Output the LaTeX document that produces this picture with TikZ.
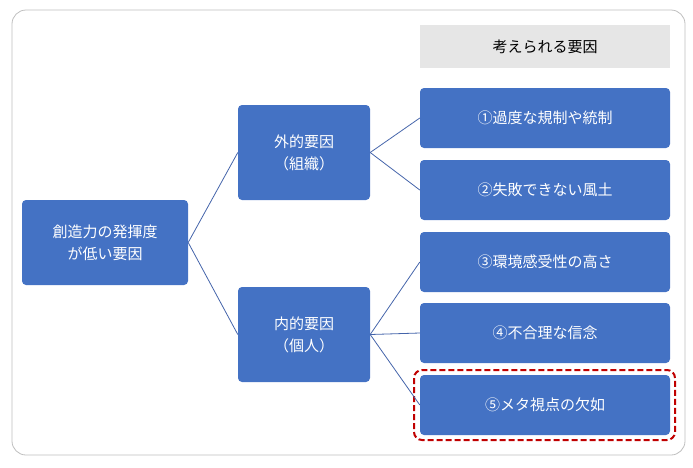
\documentclass[tikz,border=0pt]{standalone}
\usepackage{fontspec}
\setmainfont{Noto Sans CJK JP}
\definecolor{bx}{RGB}{68, 114, 196}
\definecolor{hd}{RGB}{230, 230, 230}
\definecolor{ln}{RGB}{68, 100, 170}
\definecolor{rd}{RGB}{192, 0, 0}
\usetikzlibrary{positioning}
\begin{document}
\begin{tikzpicture}[x=1pt,y=1pt]
[every node/.style={inner sep=0pt}]
\useasboundingbox (0pt, 0pt) rectangle (693pt, -467pt);
\draw [rounded corners=14pt, color=black!25, line width=0.8pt] (12pt, -10pt) rectangle (685pt, -455pt);
\tikzset{cause/.style={rectangle, rounded corners=4pt, fill=bx, text=white, font=\fontsize{15}{22}\selectfont, align=center},
  link/.style={line width=0.8pt, color=ln}}
\node (head) [rectangle, fill=hd, minimum width=250pt, minimum height=43pt, font=\fontsize{15}{18}\selectfont] at (545pt, -46.5pt) {考えられる要因};
\node (root) [cause, minimum width=166pt, minimum height=85pt] at (105pt, -242.5pt) {創造力の発揮度\\が低い要因};
\node (ext) [cause, minimum width=132pt, minimum height=95pt] at (304pt, -152.5pt) {外的要因\\（組織）};
\node (int) [cause, minimum width=132pt, minimum height=95pt] at (304pt, -334.5pt) {内的要因\\（個人）};
\node (c1) [cause, minimum width=250pt, minimum height=60pt] at (545pt, -118pt) {①過度な規制や統制};
\node (c2) [cause, minimum width=250pt, minimum height=60pt] at (545pt, -190pt) {②失敗できない風土};
\node (c3) [cause, minimum width=250pt, minimum height=60pt] at (545pt, -262pt) {③環境感受性の高さ};
\node (c4) [cause, minimum width=250pt, minimum height=60pt] at (545pt, -333pt) {④不合理な信念};
\node (c5) [cause, minimum width=250pt, minimum height=60pt] at (545pt, -405pt) {⑤メタ視点の欠如};
\draw [rd, dashed, line width=2pt, rounded corners=8pt, dash pattern=on 6pt off 3pt] (414pt, -370pt) rectangle (675pt, -440pt);
\draw [link] (root.east) to (ext.west);
\draw [link] (root.east) to (int.west);
\draw [link] (ext.east) to (c1.west);
\draw [link] (ext.east) to (c2.west);
\draw [link] (int.east) to (c3.west);
\draw [link] (int.east) to (c4.west);
\draw [link] (int.east) to (c5.west);
\end{tikzpicture}
\end{document}
